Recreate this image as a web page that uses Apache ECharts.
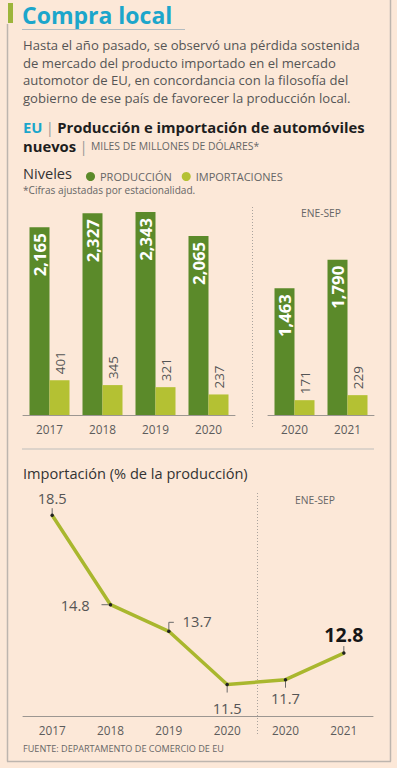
<!DOCTYPE html>
<html>
<head>
<meta charset="utf-8">
<script src="https://cdn.jsdelivr.net/npm/echarts@6/dist/echarts.min.js"></script>
<style>
html,body{margin:0;padding:0;background:#fce8d8;}
#c{width:397px;height:768px;}
</style>
</head>
<body>
<div id="c"></div>
<script>
// ---- data ----
const barCatsAnnual = ['2017', '2018', '2019', '2020'];
const prodAnnual = [2165, 2327, 2343, 2065];
const impAnnual = [401, 345, 321, 237];
const barCatsYtd = ['2020', '2021'];
const prodYtd = [1463, 1790];
const impYtd = [171, 229];
const lineCats = ['2017', '2018', '2019', '2020', '2020', '2021'];
const pctValues = [18.5, 14.8, 13.7, 11.5, 11.7, 12.8];
const seriesNames = ['PRODUCCIÓN', 'IMPORTACIONES'];

const paragraph = [
  'Hasta el año pasado, se observó una pérdida sostenida',
  'de mercado del producto importado en el mercado',
  'automotor de EU, en concordancia con la filosofía del',
  'gobierno de ese país de favorecer la producción local.'
];

// ---- styles ----
const FF = "'Open Sans'";
const C_PROD = '#5b8a2a', C_IMP = '#b4c133', C_LINE = '#a9b72e';
const C_TXT = '#555', C_CYAN = '#1ca6cb', C_BORDER = '#bdb5ae';

const cv = document.createElement('canvas').getContext('2d');
function fit(text, weight, w, maxSize) {
  cv.font = weight + ' 100px ' + FF;
  const s = Math.round(1000 * w / cv.measureText(text).width) / 10;
  return maxSize ? Math.min(s, maxSize) : s;
}
const fsTitle = fit('Compra local', 'bold', 154, 23);
const fsPara = fit(paragraph[0], 'normal', 337);
const fsHead = fit('EU | Producción e importación de automóviles', 'bold', 342, 15);
const fsSmallCaps = fit('MILES DE MILLONES DE DÓLARES*', 'normal', 168);
const fsNiveles = fit('Niveles', 'normal', 49);
const fsLegend = fit('PRODUCCIÓN', 'normal', 72);
const fsCifras = fit('*Cifras ajustadas por estacionalidad.', 'normal', 173);
const fsLineTitle = fit('Importación (% de la producción)', 'normal', 224);
const fsFoot = fit('FUENTE: DEPARTAMENTO DE COMERCIO DE EU', 'normal', 202);
const fsEne = fit('ENE-SEP', 'normal', 40);
const fsYear = fit('2017', 'normal', 27);
const fsProdLbl = fit('2,165', 'bold', 43);
const fsImpLbl = fit('401', 'normal', 23);
const fsPct = fit('18.5', 'normal', 29);
const fsPctBig = fit('12.8', 'bold', 39);

const fmtK = v => v.toLocaleString('en-US');

const pctLabelStyle = [
  {position: 'top', distance: 8},
  {position: 'left', distance: 19},
  {position: 'right', distance: 12, offset: [0, -10]},
  {position: 'bottom', distance: 14},
  {position: 'bottom', distance: 9},
  {position: 'top', distance: 7, fontSize: fsPctBig, fontWeight: 'bold', color: '#161616'}
];
const tickTypes = ['up', 'left', 'bracket', 'down', 'down', 'up'];

function txt(x, y, text, size, opts) {
  return {
    type: 'text', x: x, y: y, silent: true,
    style: Object.assign({text: text, fontSize: size, fontFamily: FF, fill: C_TXT,
      align: 'left', verticalAlign: 'middle'}, (opts || {}))
  };
}
function seg(x1, y1, x2, y2, stroke, w, dash) {
  return {type: 'line', silent: true, shape: {x1, y1, x2, y2},
    style: {stroke: stroke, lineWidth: w, lineDash: dash || null}};
}

const chart = echarts.init(document.getElementById('c'), null, {renderer: 'svg'});

const xAxisCommon = {
  type: 'category',
  axisLine: {show: true, lineStyle: {color: '#9c9691', width: 1}},
  axisTick: {show: false},
  axisLabel: {color: '#5c5c5c', fontFamily: FF, fontSize: fsYear, margin: 8}
};
const yBar = {type: 'value', show: false, min: 0, max: 2480, splitLine: {show: false}};

const prodLabel = {show: true, position: 'insideTop', rotate: 90, align: 'right', verticalAlign: 'middle',
  distance: 6, color: '#fff', fontWeight: 'bold', fontFamily: FF, fontSize: fsProdLbl, formatter: p => fmtK(p.value)};
const impLabel = {show: true, position: 'top', rotate: 90, align: 'left', verticalAlign: 'middle',
  distance: 6, color: C_TXT, fontFamily: FF, fontSize: fsImpLbl, formatter: p => fmtK(p.value)};

function barSeries(name, data, axisIdx, color, label) {
  return {type: 'bar', name: name, data: data, xAxisIndex: axisIdx, yAxisIndex: axisIdx,
    barWidth: 20, barGap: '0%', itemStyle: {color: color}, label: label, silent: true};
}

const option = {
  backgroundColor: '#fce8d8',
  animation: false,
  legend: {
    data: seriesNames, left: 81, top: 166, icon: 'circle', itemWidth: 9, itemHeight: 9, itemGap: 10,
    textStyle: {color: '#666', fontFamily: FF, fontSize: fsLegend}, selectedMode: false
  },
  grid: [
    {left: 23, top: 200, width: 212, height: 215},
    {left: 268, top: 200, width: 106, height: 215},
    {left: 23, top: 491, width: 350, height: 225}
  ],
  xAxis: [
    Object.assign({}, xAxisCommon, {gridIndex: 0, data: barCatsAnnual}),
    Object.assign({}, xAxisCommon, {gridIndex: 1, data: barCatsYtd}),
    Object.assign({}, xAxisCommon, {gridIndex: 2, data: lineCats, boundaryGap: true})
  ],
  yAxis: [
    Object.assign({gridIndex: 0}, yBar),
    Object.assign({gridIndex: 1}, yBar),
    {gridIndex: 2, type: 'value', show: false, min: 10.2, max: 19.5, splitLine: {show: false}}
  ],
  series: [
    barSeries(seriesNames[0], prodAnnual, 0, C_PROD, prodLabel),
    barSeries(seriesNames[1], impAnnual, 0, C_IMP, impLabel),
    barSeries(seriesNames[0], prodYtd, 1, C_PROD, prodLabel),
    barSeries(seriesNames[1], impYtd, 1, C_IMP, impLabel),
    {
      type: 'custom', xAxisIndex: 2, yAxisIndex: 2, silent: true, z: 3,
      data: pctValues.map((v, i) => [i, v]),
      encode: {x: 0, y: 1},
      renderItem: function (params, api) {
        const i = api.value(0);
        const p = api.coord([i, api.value(1)]);
        const x = p[0], y = p[1];
        let pts;
        switch (tickTypes[i]) {
          case 'up': pts = [[x, y - 1], [x, y - 7]]; break;
          case 'down': pts = [[x, y + 1], [x, y + 8]]; break;
          case 'left': pts = [[x - 1, y], [x - 9, y]]; break;
          default: pts = [[x, y - 1], [x, y - 9], [x + 5, y - 9]];
        }
        return {type: 'polyline', shape: {points: pts}, style: {stroke: '#6a6a6a', lineWidth: 1, fill: null}};
      }
    },
    {
      type: 'line', name: 'Importación', xAxisIndex: 2, yAxisIndex: 2, z: 4, silent: true,
      data: pctValues.map((v, i) => ({
        value: v,
        label: Object.assign({show: true, color: C_TXT, fontFamily: FF, fontSize: fsPct,
          formatter: p => p.value.toFixed(1)}, pctLabelStyle[i])
      })),
      symbol: 'circle', symbolSize: 3.5, showSymbol: true,
      itemStyle: {color: '#222'},
      lineStyle: {color: C_LINE, width: 3.5}
    }
  ],
  graphic: [
    // frame
    seg(7.5, 24, 7.5, 761.5, C_BORDER, 1.5),
    seg(7, 761.5, 391, 761.5, C_BORDER, 1.5),
    seg(390.5, 0, 390.5, 761.5, C_BORDER, 1.5),
    {type: 'rect', silent: true, shape: {x: 8, y: 3, width: 5, height: 20}, style: {fill: '#9db53b'}},
    txt(22, 15, 'Compra local', fsTitle, {fill: C_CYAN, fontWeight: 'bold'}),
    seg(22, 29.5, 185, 29.5, '#b3bcc0', 1),
    txt(23, 45, paragraph[0], fsPara),
    txt(23, 62.5, paragraph[1], fsPara),
    txt(23, 80, paragraph[2], fsPara),
    txt(23, 97.5, paragraph[3], fsPara),
    {
      type: 'text', x: 23, y: 126.5, silent: true,
      style: {
        text: '{eu|EU} {bar||} {b|Producción e importación de automóviles}',
        verticalAlign: 'middle', align: 'left',
        rich: {
          eu: {fill: C_CYAN, fontWeight: 'bold', fontSize: fsHead, fontFamily: FF},
          bar: {fill: '#999', fontSize: fsHead, fontFamily: FF},
          b: {fill: '#1e1e1e', fontWeight: 'bold', fontSize: fsHead, fontFamily: FF}
        }
      }
    },
    {
      type: 'text', x: 23, y: 145.5, silent: true,
      style: {
        text: '{b|nuevos} {bar||} {s|MILES DE MILLONES DE DÓLARES*}',
        verticalAlign: 'middle', align: 'left',
        rich: {
          b: {fill: '#1e1e1e', fontWeight: 'bold', fontSize: fsHead, fontFamily: FF},
          bar: {fill: '#999', fontSize: fsHead, fontFamily: FF},
          s: {fill: '#666', fontSize: fsSmallCaps, fontFamily: FF}
        }
      }
    },
    txt(23, 173, 'Niveles', fsNiveles, {fill: '#333'}),
    txt(23, 190, '*Cifras ajustadas por estacionalidad.', fsCifras, {fill: '#666'}),
    txt(321, 213, 'ENE-SEP', fsEne, {align: 'center', fill: '#666'}),
    seg(252.5, 207, 252.5, 428, '#aaa39d', 1, [1, 2]),
    seg(22, 449, 374, 449, '#d3ccc6', 1.5),
    txt(23, 473, 'Importación (% de la producción)', fsLineTitle, {fill: '#333'}),
    txt(315, 500, 'ENE-SEP', fsEne, {align: 'center', fill: '#666'}),
    seg(257.5, 493, 257.5, 734, '#aaa39d', 1, [1, 2]),
    txt(23, 748, 'FUENTE: DEPARTAMENTO DE COMERCIO DE EU', fsFoot, {fill: '#666'})
  ]
};
chart.setOption(option);
</script>
</body>
</html>
